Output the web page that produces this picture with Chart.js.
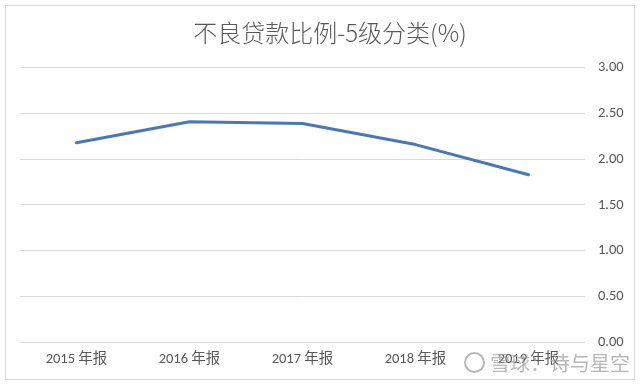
<!DOCTYPE html>
<html lang="zh">
<head>
    <meta charset="UTF-8">
    <title>不良贷款比例-5级分类(%)</title>
    <style>
        html, body {
            margin: 0;
            padding: 0;
            background: #fff;
        }
        #wrap {
            position: relative;
            width: 640px;
            height: 385px;
        }
        #frame {
            position: absolute;
            left: 5px;
            top: 5px;
            width: 630px;
            height: 375px;
            border: 1px solid #d9d9d9;
            box-sizing: border-box;
            pointer-events: none;
        }
        #mark {
            position: absolute;
            left: 464px;
            top: 350px;
            font-family: "Noto Sans CJK SC", sans-serif;
            font-size: 20px;
            line-height: 26px;
            color: rgba(160, 160, 160, 0.75);
            white-space: nowrap;
        }
        #mark .logo {
            display: inline-block;
            width: 17px;
            height: 17px;
            border: 2px solid rgba(160, 160, 160, 0.75);
            border-radius: 50%;
            vertical-align: -2px;
            margin-right: 5px;
        }
    </style>
</head>
<body>
<div id="wrap">
    <canvas id="lineChart" width="640" height="385"></canvas>
    <div id="frame"></div>
    <div id="mark"><span class="logo"></span>雪球：诗与星空</div>
</div>

<script src="https://cdn.jsdelivr.net/npm/chart.js"></script>
<script>
    // data
    const categories = ['2015 年报', '2016 年报', '2017 年报', '2018 年报', '2019 年报'];
    const nplRatio = [2.18, 2.41, 2.39, 2.16, 1.83];
    const yTicks = [0, 0.5, 1, 1.5, 2, 2.5, 3];

    const tickFont = { family: "Carlito, 'Noto Sans', 'Noto Sans CJK SC', sans-serif", size: 14.5 };

    const ctx = document.getElementById('lineChart').getContext('2d');
    const chart = new Chart(ctx, {
        type: 'line',
        data: {
            labels: categories,
            datasets: [{
                label: '不良贷款比例',
                data: nplRatio,
                borderColor: '#4a78b5',
                backgroundColor: '#4a78b5',
                borderWidth: 3,
                pointRadius: 0,
                tension: 0,
                borderCapStyle: 'round',
                borderJoinStyle: 'round'
            }]
        },
        options: {
            responsive: false,
            animation: false,
            layout: {
                padding: { left: 20, right: 0, top: 0, bottom: 0 }
            },
            plugins: {
                legend: { display: false },
                tooltip: { enabled: false },
                title: {
                    display: true,
                    text: '不良贷款比例-5级分类(%)',
                    color: '#595959',
                    font: { family: "'Noto Sans CJK SC', sans-serif", size: 24, weight: 300, lineHeight: 1.2 },
                    padding: { top: 18, bottom: 21 }
                }
            },
            scales: {
                x: {
                    offset: true,
                    grid: { display: false, drawTicks: false },
                    border: { display: false },
                    ticks: { color: '#595959', font: tickFont, padding: 9, maxRotation: 0 },
                    afterFit: (scale) => { scale.height = 43; }
                },
                y: {
                    position: 'right',
                    min: 0,
                    max: 3,
                    afterBuildTicks: (scale) => {
                        scale.ticks = yTicks.map(v => ({ value: v }));
                    },
                    grid: { color: '#d9d9d9', lineWidth: 1, drawTicks: false },
                    border: { display: false },
                    ticks: {
                        color: '#595959',
                        font: tickFont,
                        padding: 13,
                        callback: (v) => Number(v).toFixed(2)
                    },
                    afterFit: (scale) => { scale.width = 55; }
                }
            }
        }
    });
</script>
</body>
</html>
